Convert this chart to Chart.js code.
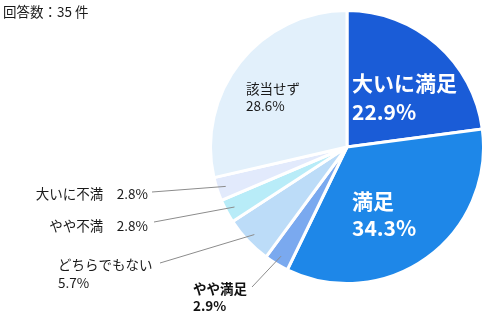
<!DOCTYPE html>
<html>
<head>
<meta charset="utf-8">
<script src="https://cdn.jsdelivr.net/npm/chart.js@4.4.1/dist/chart.umd.min.js"></script>
<style>
  html, body { margin: 0; padding: 0; background: #fff; }
  #wrap { position: relative; width: 486px; height: 322px; }
</style>
</head>
<body>
<div id="wrap"><canvas id="grafico" width="486" height="322"></canvas></div>
<script>
// dados
const categorias = ["大いに満足", "満足", "やや満足", "どちらでもない", "やや不満", "大いに不満", "該当せず"];
const valores = [22.9, 34.3, 2.9, 5.7, 2.8, 2.8, 28.6];
const cores = ["#1a5cd7", "#1e87e8", "#7aa9ef", "#bcdcf8", "#b8ecf8", "#e2eafc", "#e2f0fb"];
const titulo = "回答数：35 件";

const FONTE = '"Noto Sans CJK JP", "Noto Sans", sans-serif';

// posição dos rótulos (layout)
const rotulos = [
  { tipo: "dentro", x: 352, y: 83, cor: "#fff", tam: 21, negrito: true, linhas: ["大いに満足", "22.9%"], alt: 29 },
  { tipo: "dentro", x: 352, y: 201, cor: "#fff", tam: 21, negrito: true, linhas: ["満足", "34.3%"], alt: 27 },
  { tipo: "fora", x: 193, y: 289, cor: "#111", tam: 13.5, negrito: true, linhas: ["やや満足", "2.9%"], alt: 17, align: "left", lx: 252, ly: 287 },
  { tipo: "fora", x: 58, y: 265, cor: "#1a1a1a", tam: 13.5, negrito: false, linhas: ["どちらでもない", "5.7%"], alt: 18, align: "left", lx: 160, ly: 263 },
  { tipo: "fora", x: 148, y: 226, cor: "#1a1a1a", tam: 13.5, negrito: false, linhas: ["やや不満　2.8%"], alt: 17, align: "right", lx: 154, ly: 222 },
  { tipo: "fora", x: 148, y: 194, cor: "#1a1a1a", tam: 13.5, negrito: false, linhas: ["大いに不満　2.8%"], alt: 17, align: "right", lx: 152, ly: 192 },
  { tipo: "dentro", x: 246, y: 89, cor: "#1a1a1a", tam: 13.5, negrito: false, linhas: ["該当せず", "28.6%"], alt: 17 }
];

const pluginRotulos = {
  id: "rotulos",
  afterDraw(chart) {
    const ctx = chart.ctx;
    const arcos = chart.getDatasetMeta(0).data;
    ctx.save();
    rotulos.forEach((r, i) => {
      const arco = arcos[i];
      if (r.tipo === "fora") {
        const meio = (arco.startAngle + arco.endAngle) / 2;
        const raio = arco.outerRadius - 9;
        const px = arco.x + Math.cos(meio) * raio;
        const py = arco.y + Math.sin(meio) * raio;
        ctx.strokeStyle = "#8c8c8c";
        ctx.lineWidth = 1;
        ctx.beginPath();
        ctx.moveTo(r.lx, r.ly);
        ctx.lineTo(px, py);
        ctx.stroke();
      }
      ctx.fillStyle = r.cor;
      ctx.font = (r.negrito ? "bold " : "") + r.tam + "px " + FONTE;
      ctx.textAlign = r.align || "left";
      ctx.textBaseline = "middle";
      r.linhas.forEach((t, k) => ctx.fillText(t, r.x, r.y + k * r.alt));
    });
    // título
    ctx.fillStyle = "#1a1a1a";
    ctx.font = "13.5px " + FONTE;
    ctx.textAlign = "left";
    ctx.fillText(titulo, 3, 12);
    ctx.restore();
  }
};

const ctx = document.getElementById("grafico").getContext("2d");
new Chart(ctx, {
  type: "pie",
  data: {
    labels: categorias,
    datasets: [{
      data: valores,
      backgroundColor: cores,
      borderColor: "#ffffff",
      borderWidth: 3
    }]
  },
  options: {
    responsive: false,
    animation: false,
    layout: { padding: { left: 209, right: 1, top: 9, bottom: 37 } },
    plugins: {
      legend: { display: false },
      tooltip: { enabled: false }
    }
  },
  plugins: [pluginRotulos]
});
</script>
</body>
</html>
